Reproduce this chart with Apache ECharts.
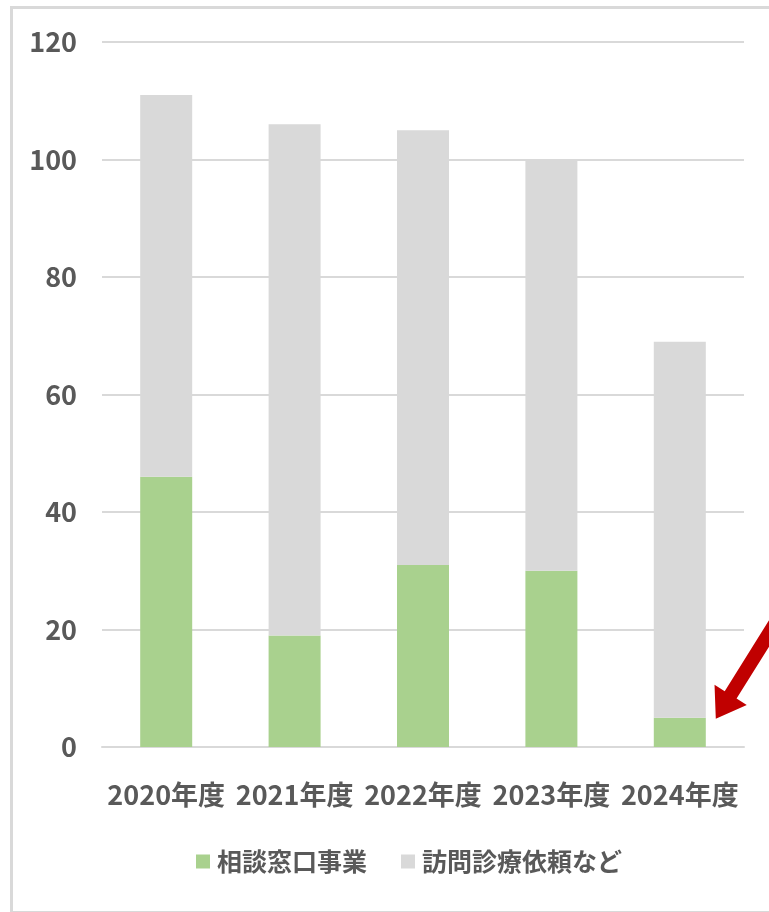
<!DOCTYPE html>
<html><head><meta charset="utf-8">
<script src="https://cdn.jsdelivr.net/npm/echarts@6/dist/echarts.min.js"></script>
<style>html,body{margin:0;padding:0;background:#fff}#c{width:769px;height:912px}</style>
</head><body><div id="c"></div>
<script>
const categories = ['2020年度','2021年度','2022年度','2023年度','2024年度'];
const seriesNames = ['相談窓口事業','訪問診療依頼など'];
const consult = [46, 19, 31, 30, 5];
const visit = [65, 87, 74, 70, 64];
const yTicks = [0, 20, 40, 60, 80, 100, 120];

const FONT = '"Noto Sans CJK JP", "Noto Sans", sans-serif';
const TXT = '#595959';
const BAR_W = 52;
const chart = echarts.init(document.getElementById('c'), null, {renderer: 'canvas'});
chart.setOption({
  animation: false,
  backgroundColor: '#fff',
  grid: {left: 102, right: 25, top: 42, bottom: 165, containLabel: false},
  legend: {
    bottom: 33, left: 191, itemWidth: 14, itemHeight: 14, itemGap: 34,
    icon: 'rect',
    textStyle: {color: TXT, fontSize: 25, fontWeight: 'bold', fontFamily: FONT, padding: [0, 0, 0, 2]},
    data: seriesNames
  },
  xAxis: {
    type: 'category', data: categories,
    axisLine: {show: true, lineStyle: {color: '#d9d9d9', width: 2}},
    axisTick: {show: false},
    axisLabel: {interval: 0, color: TXT, fontSize: 27, fontWeight: 'bold', fontFamily: FONT, margin: 34}
  },
  yAxis: {
    type: 'value', min: yTicks[0], max: yTicks[yTicks.length-1], interval: 20,
    axisLine: {show: false}, axisTick: {show: false},
    splitLine: {lineStyle: {color: '#d9d9d9', width: 2}},
    axisLabel: {color: TXT, fontSize: 27, fontWeight: 'bold', fontFamily: FONT, margin: 25}
  },
  series: [
    {name: seriesNames[0], type: 'bar', stack: 't', data: consult, barWidth: BAR_W,
     itemStyle: {color: '#a9d18e'}},
    {name: seriesNames[1], type: 'bar', stack: 't', data: visit, barWidth: BAR_W,
     itemStyle: {color: '#d9d9d9'}}
  ]
});

// annotation arrow pointing at the 2024 green bar
const p = chart.convertToPixel({xAxisIndex: 0, yAxisIndex: 0}, [4, consult[4]]);
const tip = [p[0] + BAR_W / 2 + 10, p[1] + 1];
const d = [0.53, -0.848];
const n = [-d[1], d[0]];
const headL = 28, headW = 19, shaftW = 7, tailL = 160;
function pt(a, b) { return [tip[0] + d[0]*a + n[0]*b, tip[1] + d[1]*a + n[1]*b]; }
const poly = [
  pt(0, 0), pt(headL, headW), pt(headL, shaftW), pt(tailL, shaftW),
  pt(tailL, -shaftW), pt(headL, -shaftW), pt(headL, -headW)
];
chart.setOption({
  graphic: [
    {type: 'rect', left: 9, top: 5, silent: true,
     shape: {x: 0, y: 0, width: 800, height: 905},
     style: {fill: 'none', stroke: '#d9d9d9', lineWidth: 3}, z: 100},
    {type: 'polygon', shape: {points: poly}, style: {fill: '#c00000'}, z: 100}
  ]
});
</script></body></html>
